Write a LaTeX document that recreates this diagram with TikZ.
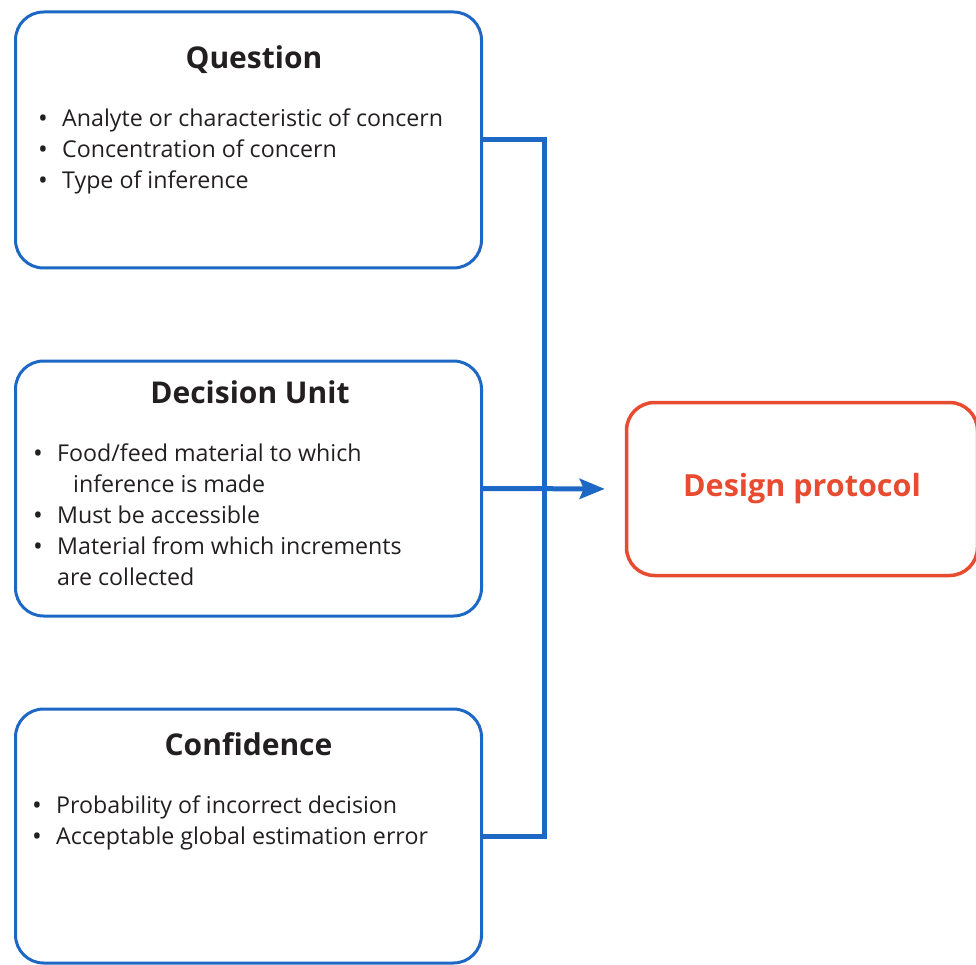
\documentclass[tikz,border=0pt]{standalone}
\usepackage{fontspec}
\setmainfont{Open Sans}
\usetikzlibrary{arrows.meta}
\definecolor{boxblue}{HTML}{1C68C4}
\definecolor{protred}{HTML}{E84B30}
\definecolor{txt}{HTML}{231F20}
\tikzset{
  panel/.style={draw=boxblue, line width=3pt, rounded corners=28pt, minimum width=466pt, inner sep=0pt},
  target/.style={draw=protred, line width=3.5pt, rounded corners=28pt, minimum width=351pt, minimum height=173pt, inner sep=0pt,
    font=\fontsize{30.5}{34}\selectfont\bfseries, text=protred},
  title/.style={anchor=base, inner sep=0pt, font=\fontsize{30}{34}\selectfont\bfseries, text=txt},
  item/.style={anchor=base west, inner sep=0pt, font=\fontsize{23.2}{26}\selectfont, text=txt},
  dot/.style={anchor=base, inner sep=0pt, font=\fontsize{26}{26}\selectfont, text=txt},
  conn/.style={draw=boxblue, line width=5pt, line join=miter}
}
\begin{document}
\begin{tikzpicture}[x=1pt,y=-1pt]
\useasboundingbox (0,0) rectangle (976,965);
% boxes
\node[panel, minimum height=256pt] (Q) at (248.5,140) {};
\node[panel, minimum height=255pt] (D) at (248.5,488.5) {};
\node[panel, minimum height=254pt] (C) at (248.5,836) {};
\node[target] (P) at (802,489) {Design protocol};
% Question
\node[title] (qt) at (254,69) {Question};
\node[dot] (qb1) at (43,128) {•};
\node[item] (q1) at (62,127) {Analyte or characteristic of concern};
\node[dot] (qb2) at (43,159) {•};
\node[item] (q2) at (62,158) {Concentration of concern};
\node[dot] (qb3) at (43,190) {•};
\node[item] (q3) at (62,189) {Type of inference};
% Decision Unit
\node[title] (dt) at (250,403) {Decision Unit};
\node[dot] (db1) at (38,462) {•};
\node[item] (d1) at (57,461) {Food/feed material to which};
\node[item] (d1b) at (73,492) {inference is made};
\node[dot] (db2) at (38,524) {•};
\node[item] (d2) at (57,523) {Must be accessible};
\node[dot] (db3) at (38,555) {•};
\node[item] (d3) at (57,554) {Material from which increments};
\node[item] (d3b) at (57,585) {are collected};
% Confidence
\node[title] (ct) at (248.5,755) {Confidence};
\node[dot] (cb1) at (37,814) {•};
\node[item] (c1) at (56,813) {Probability of incorrect decision};
\node[dot] (cb2) at (37,845) {•};
\node[item] (c2) at (56,844) {Acceptable global estimation error};
% connectors
\coordinate (trunk) at (544,0);
\draw[conn] (Q.east) -- (Q.east -| trunk) -- (C.east -| trunk) -- (C.east);
\draw[conn, -{Stealth[length=25pt,width=20pt,inset=4pt]}, shorten >=20pt] (D.east) -- (P.west);
\end{tikzpicture}
\end{document}
